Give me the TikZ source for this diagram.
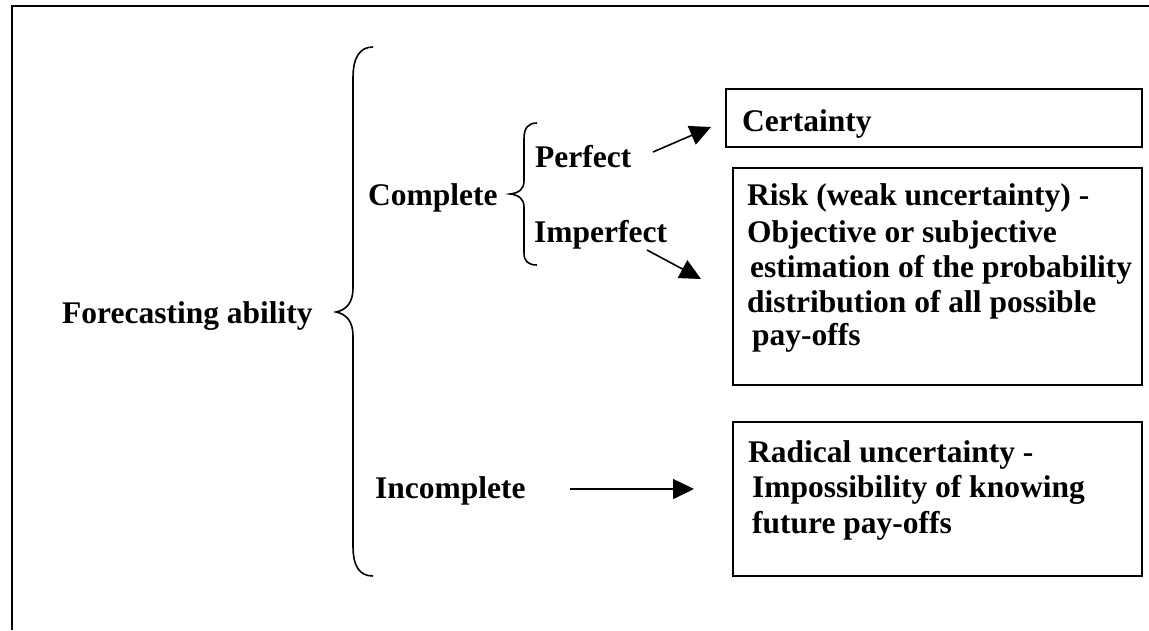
\documentclass[tikz,border=0pt]{standalone}
\usepackage{fontspec}
\setmainfont{Liberation Serif}
\usetikzlibrary{arrows.meta}
\begin{document}
\begin{tikzpicture}[x=1pt,y=-1pt,
  lbl/.style={anchor=base west,inner sep=0pt,font=\fontsize{31.5}{35}\selectfont\bfseries},
  frame/.style={line width=2.5pt},
  boxline/.style={draw,line width=2pt,inner sep=0pt,anchor=north west},
  brace/.style={line width=1.6pt},
  arr/.style={line width=1.6pt,-{Triangle[length=21pt,width=20pt]}}]
\useasboundingbox (0,0) rectangle (1149,630);
% outer frame (open to the right and bottom)
\draw[frame] (1149,6) -- (12,6) -- (12,630);

% main brace
\draw[brace] (373,47) .. controls (360,47) and (353,57) .. (353,78) -- (353,288)
  .. controls (353,303) and (346,310) .. (336,312)
  .. controls (346,314) and (353,321) .. (353,336) -- (353,546)
  .. controls (353,567) and (360,576) .. (373,576);
% secondary brace
\draw[brace] (537,123) .. controls (528,123) and (524,128) .. (524,139) -- (524,181)
  .. controls (524,189) and (519,193) .. (510,194)
  .. controls (519,195) and (524,199) .. (524,207) -- (524,253)
  .. controls (524,261) and (528,265) .. (537,265);

% labels
\node[lbl] (fa) at (62,323) {Forecasting ability};
\node[lbl] (comp) at (368,205) {Complete};
\node[lbl] (perf) at (535,167) {Perfect};
\node[lbl] (imperf) at (534,242) {Imperfect};
\node[lbl] (incomp) at (375,498) {Incomplete};

% result boxes
\node[boxline,minimum width=416pt,minimum height=58pt] (cert) at (725,88) {};
\node[boxline,minimum width=409pt,minimum height=217pt] (risk) at (732,167) {};
\node[boxline,minimum width=409pt,minimum height=154pt] (rad) at (732,421) {};

\node[lbl] (certT) at (742,131) {Certainty};

\node[lbl] (risk1) at (747,205) {Risk (weak uncertainty) -};
\node[lbl] (risk2) at (747,242) {Objective or subjective};
\node[lbl] (risk3) at (750,277) {estimation of the probability};
\node[lbl] (risk4) at (747,312) {distribution of all possible};
\node[lbl] (risk5) at (752,345) {pay-offs};

\node[lbl] (rad1) at (748,462) {Radical uncertainty -};
\node[lbl] (rad2) at (752,497) {Impossibility of knowing};
\node[lbl] (rad3) at (752,533) {future pay-offs};

% connectors
\coordinate (pS) at (653,152);
\coordinate (pE) at (711,127);
\coordinate (iS) at (647,250);
\coordinate (iE) at (701,279);
\coordinate (nS) at (570,489);
\coordinate (nE) at (694,489);
\draw[arr] (pS) -- (pE);
\draw[arr] (iS) -- (iE);
\draw[arr] (nS) -- (nE);
\end{tikzpicture}
\end{document}
